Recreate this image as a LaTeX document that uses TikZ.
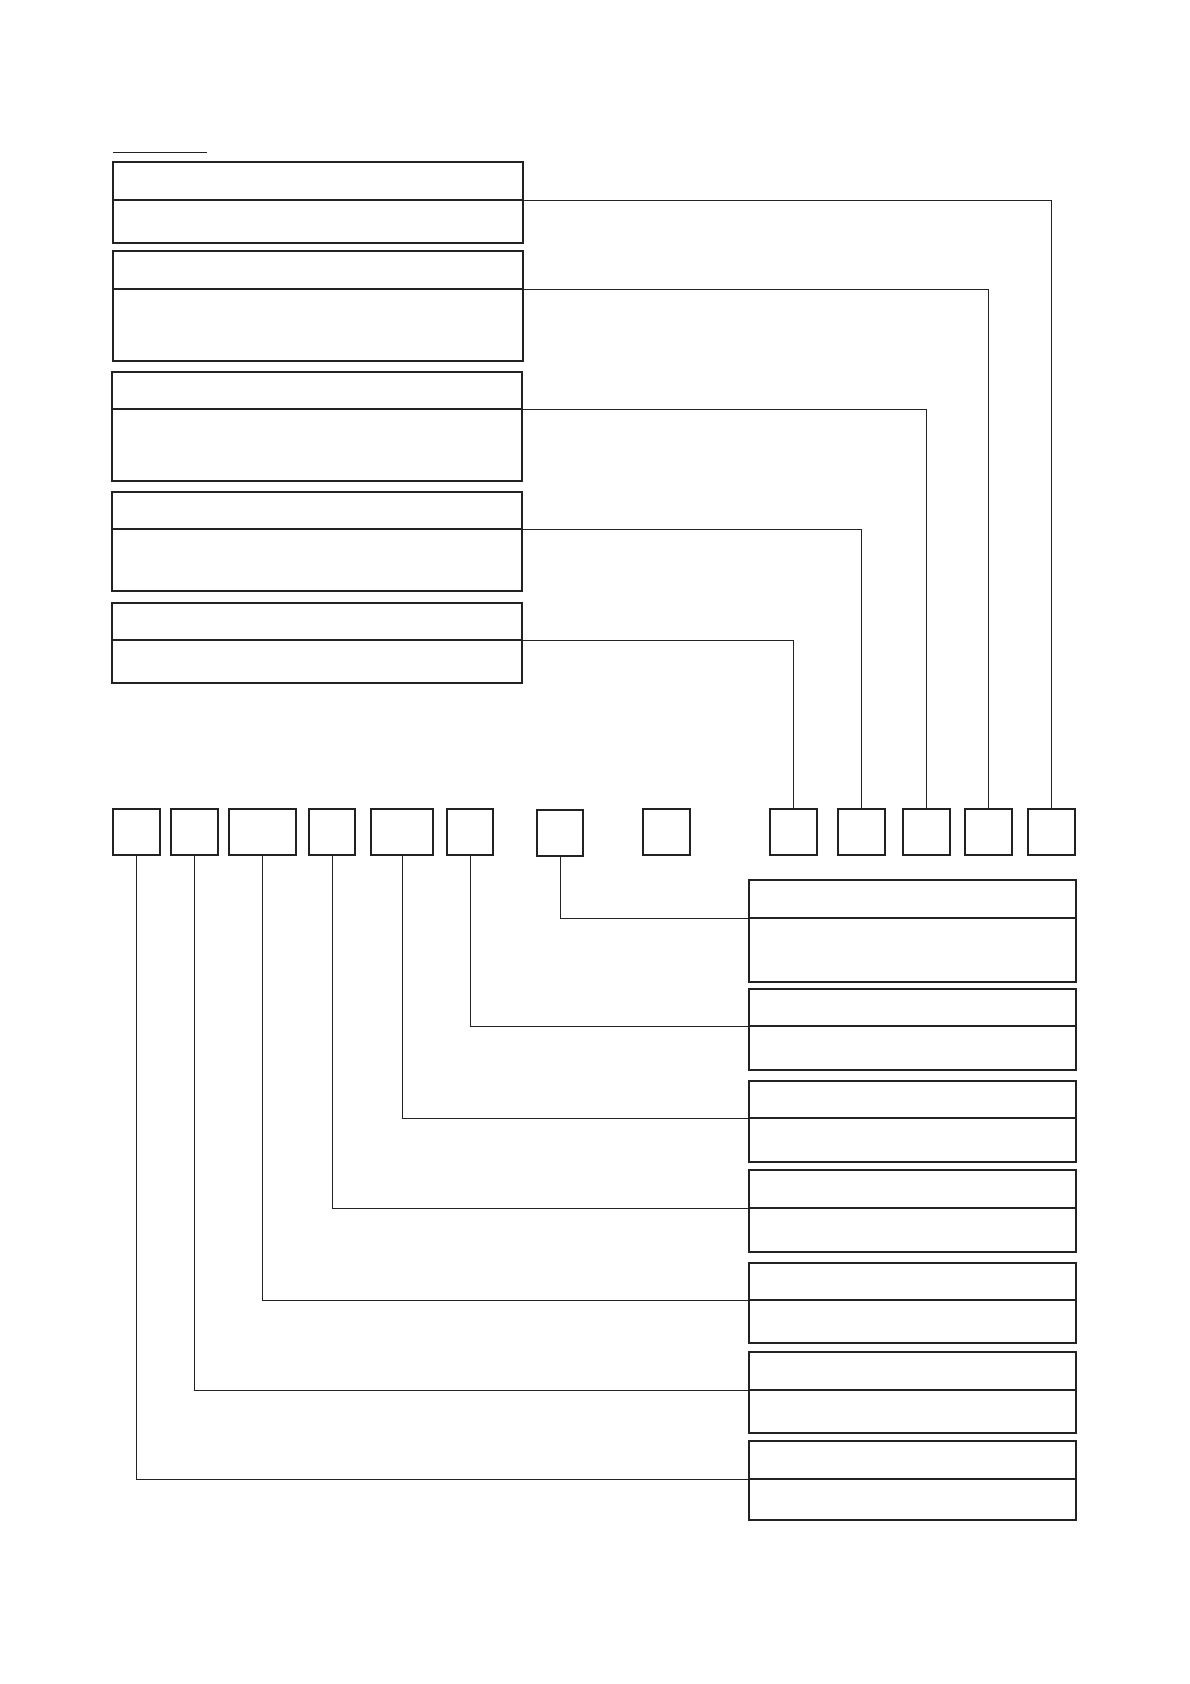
\documentclass[tikz,border=0pt]{standalone}
\begin{document}
\begin{tikzpicture}[x=1pt,y=-1pt,
  part/.style={draw=ink,line width=2pt,inner sep=0pt,outer sep=0pt,anchor=north west,rectangle},
  lpart/.style={part,minimum width=410pt},
  rpart/.style={part,minimum width=327pt},
  sq/.style={part,minimum height=46pt},
  link/.style={draw=ink,line width=0.9pt}]
\definecolor{ink}{HTML}{222222}
\useasboundingbox (0,0) rectangle (1190,1684);
% top underline
\coordinate (ul1) at (113,152);
\coordinate (ul2) at (207,152);
\draw[link] (ul1) -- (ul2);
% left boxes
\node[lpart,minimum height=38pt] (lh1) at (113,162) {};
\node[lpart,minimum height=43pt] (lb1) at (113,200) {};
\node[lpart,minimum height=38pt] (lh2) at (113,251) {};
\node[lpart,minimum height=72pt] (lb2) at (113,289) {};
\node[lpart,minimum height=37pt] (lh3) at (112,372) {};
\node[lpart,minimum height=72pt] (lb3) at (112,409) {};
\node[lpart,minimum height=37pt] (lh4) at (112,492) {};
\node[lpart,minimum height=62pt] (lb4) at (112,529) {};
\node[lpart,minimum height=37pt] (lh5) at (112,603) {};
\node[lpart,minimum height=43pt] (lb5) at (112,640) {};
% squares
\node[sq,minimum width=47pt] (s1) at (113,809) {};
\node[sq,minimum width=47pt] (s2) at (171,809) {};
\node[sq,minimum width=67pt] (s3) at (229,809) {};
\node[sq,minimum width=46pt] (s4) at (309,809) {};
\node[sq,minimum width=62pt] (s5) at (371,809) {};
\node[sq,minimum width=46pt] (s6) at (447,809) {};
\node[sq,minimum width=46pt] (s7) at (537,810) {};
\node[sq,minimum width=47pt] (s8) at (643,809) {};
\node[sq,minimum width=47pt] (s9) at (770,809) {};
\node[sq,minimum width=47pt] (s10) at (838,809) {};
\node[sq,minimum width=47pt] (s11) at (903,809) {};
\node[sq,minimum width=47pt] (s12) at (965,809) {};
\node[sq,minimum width=47pt] (s13) at (1028,809) {};
% right boxes
\node[rpart,minimum height=38pt] (rh1) at (749,880) {};
\node[rpart,minimum height=64pt] (rb1) at (749,918) {};
\node[rpart,minimum height=37pt] (rh2) at (749,989) {};
\node[rpart,minimum height=44pt] (rb2) at (749,1026) {};
\node[rpart,minimum height=37pt] (rh3) at (749,1081) {};
\node[rpart,minimum height=44pt] (rb3) at (749,1118) {};
\node[rpart,minimum height=38pt] (rh4) at (749,1170) {};
\node[rpart,minimum height=44pt] (rb4) at (749,1208) {};
\node[rpart,minimum height=37pt] (rh5) at (749,1263) {};
\node[rpart,minimum height=43pt] (rb5) at (749,1300) {};
\node[rpart,minimum height=38pt] (rh6) at (749,1352) {};
\node[rpart,minimum height=43pt] (rb6) at (749,1390) {};
\node[rpart,minimum height=38pt] (rh7) at (749,1441) {};
\node[rpart,minimum height=41pt] (rb7) at (749,1479) {};
% connectors top
\draw[link] (lb1.north east) -| (s13.north);
\draw[link] (lb2.north east) -| (s12.north);
\draw[link] (lb3.north east) -| (s11.north);
\draw[link] (lb4.north east) -| (s10.north);
\draw[link] (lb5.north east) -| (s9.north);
% connectors bottom
\draw[link] (s7.south) |- (rb1.north west);
\draw[link] (s6.south) |- (rb2.north west);
\draw[link] (s5.south) |- (rb3.north west);
\draw[link] (s4.south) |- (rb4.north west);
\draw[link] (s3.south) |- (rb5.north west);
\draw[link] (s2.south) |- (rb6.north west);
\draw[link] (s1.south) |- (rb7.north west);
\end{tikzpicture}
\end{document}
